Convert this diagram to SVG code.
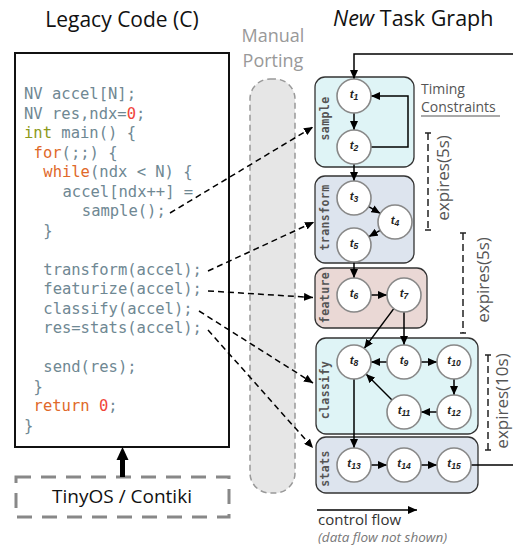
<svg xmlns="http://www.w3.org/2000/svg" width="513" height="548" viewBox="0 0 513 548">
<style>
.title{font-family:"Open Sans","Noto Sans",sans-serif;font-size:21px;fill:#111}
.code{font-family:"DejaVu Sans Mono","Liberation Mono",monospace;font-size:15.5px;fill:#6f8893}
.kw{fill:#e0692a}
.ty{fill:#8c9a1b}
.num{fill:#f0453a}
.grp{stroke:#333;stroke-width:1.3}
.glabel{font-family:"DejaVu Sans Mono","Liberation Mono",monospace;font-size:11.5px;font-weight:bold;fill:#555;letter-spacing:0.4px;text-anchor:middle}
.node circle{fill:#fff;stroke:#888;stroke-width:1.6}
.tl{font-family:"Liberation Sans",Arial,sans-serif;font-style:italic;font-weight:bold;font-size:11.5px;fill:#222;text-anchor:middle}
.sub{font-size:8.5px}
.edge{stroke:#000;stroke-width:1.5;fill:none}
.dash{stroke:#000;stroke-width:1.5;fill:none;stroke-dasharray:6 4}
.note{font-family:"Open Sans","Noto Sans",sans-serif;fill:#555}
.brk{stroke:#222;stroke-width:1.5;fill:none}
</style>
<defs>
<marker id="ah" markerUnits="userSpaceOnUse" markerWidth="10" markerHeight="8" refX="9" refY="4" orient="auto">
<path d="M0,0 L9,4 L0,8 z" fill="#000"/>
</marker>
</defs>

<!-- Titles -->
<text class="title" x="122" y="27" text-anchor="middle">Legacy Code (C)</text>
<text class="title" x="333" y="26" style="font-size:21.5px"><tspan font-style="italic">New</tspan> Task Graph</text>
<text class="note" x="273" y="42" font-size="18" text-anchor="middle" style="fill:#999">Manual</text>
<text class="note" x="273" y="67" font-size="18" text-anchor="middle" style="fill:#999">Porting</text>

<!-- Manual porting pill -->
<rect x="250" y="79" width="45" height="414" rx="20" fill="#e6e6e6" stroke="#999" stroke-width="1.5" stroke-dasharray="6 4"/>

<!-- Code box -->
<g id="legacy-code">
<rect x="15" y="53" width="214" height="394" fill="#fff" stroke="#111" stroke-width="2"/>
<text class="code" x="24" y="99">NV accel[N];</text>
<text class="code" x="24" y="118.5">NV res,ndx=<tspan class="num">0</tspan>;</text>
<text class="code" x="24" y="138"><tspan class="ty">int</tspan> main() {</text>
<text class="code" x="33.6" y="157.5"><tspan class="kw">for</tspan>(;;) {</text>
<text class="code" x="43.3" y="177"><tspan class="kw">while</tspan>(ndx &lt; N) {</text>
<text class="code" x="62.5" y="196.5">accel[ndx++] =</text>
<text class="code" x="81.8" y="216">sample();</text>
<text class="code" x="43.3" y="235.5">}</text>
<text class="code" x="43.3" y="274.5">transform(accel);</text>
<text class="code" x="43.3" y="294">featurize(accel);</text>
<text class="code" x="43.3" y="313.5">classify(accel);</text>
<text class="code" x="43.3" y="333">res=stats(accel);</text>
<text class="code" x="43.3" y="372">send(res);</text>
<text class="code" x="33.6" y="391.5">}</text>
<text class="code" x="33.6" y="411"><tspan class="kw">return</tspan> <tspan class="num">0</tspan>;</text>
<text class="code" x="24" y="430.5">}</text>
</g>

<!-- OS box -->
<g id="os">
<rect x="16" y="477" width="213" height="40" fill="none" stroke="#888" stroke-width="3" stroke-dasharray="15 10"/>
<text class="title" x="122" y="503" text-anchor="middle" style="font-size:19px">TinyOS / Contiki</text>
<rect x="120" y="459" width="5" height="18" fill="#000"/>
<polygon points="122.5,447 116.5,460 128.5,460" fill="#000"/>
</g>

<!-- Groups -->
<g id="sample">
<rect class="grp" x="315" y="77" width="99" height="90" rx="10" fill="#dff4f6"/>
<text class="glabel" transform="translate(329,118.5) rotate(-90)">sample</text>
</g>
<g id="transform">
<rect class="grp" x="315" y="176" width="99" height="87" rx="10" fill="#dde4ee"/>
<text class="glabel" transform="translate(329,217.5) rotate(-90)">transform</text>
</g>
<g id="feature">
<rect class="grp" x="315" y="268" width="112" height="60" rx="10" fill="#ead8d5"/>
<text class="glabel" transform="translate(329,297.5) rotate(-90)">feature</text>
</g>
<g id="classify">
<rect class="grp" x="316" y="338" width="162" height="96" rx="10" fill="#dff4f6"/>
<text class="glabel" transform="translate(329,390) rotate(-90)">classify</text>
</g>
<g id="stats">
<rect class="grp" x="316" y="437" width="162" height="56" rx="10" fill="#dde4ee"/>
<text class="glabel" transform="translate(329,468.5) rotate(-90)">stats</text>
</g>

<!-- Connectors -->
<g id="connectors">
<path class="edge" d="M513,54 H354 V79" marker-end="url(#ah)"/>
<path class="edge" d="M354,113 V130" marker-end="url(#ah)"/>
<path class="edge" d="M371,147 H408 V96 H371" marker-end="url(#ah)"/>
<path class="edge" d="M354,164 V181" marker-end="url(#ah)"/>
<path class="edge" d="M368.7,206.6 L380.3,213.4" marker-end="url(#ah)"/>
<path class="edge" d="M380.2,230.3 L368.8,236.7" marker-end="url(#ah)"/>
<path class="edge" d="M354,262 V278" marker-end="url(#ah)"/>
<path class="edge" d="M371,295 H387" marker-end="url(#ah)"/>
<path class="edge" d="M393.8,308.6 L364.2,348.4" marker-end="url(#ah)"/>
<path class="edge" d="M404,312 V345" marker-end="url(#ah)"/>
<path class="edge" d="M387,362 H371" marker-end="url(#ah)"/>
<path class="edge" d="M421,362 H437" marker-end="url(#ah)"/>
<path class="edge" d="M454,379 V395" marker-end="url(#ah)"/>
<path class="edge" d="M437,412 H421" marker-end="url(#ah)"/>
<path class="edge" d="M392,400 L366,374" marker-end="url(#ah)"/>
<path class="edge" d="M354,379 V448" marker-end="url(#ah)"/>
<path class="edge" d="M371,465 H387" marker-end="url(#ah)"/>
<path class="edge" d="M421,465 H437" marker-end="url(#ah)"/>
<path class="edge" d="M471,465 H513"/>
<!-- porting dashed arrows -->
<path class="dash" d="M170,213 L313,127" marker-end="url(#ah)"/>
<path class="dash" d="M208,271 L314,222" marker-end="url(#ah)"/>
<path class="dash" d="M208,291 L313,297.5" marker-end="url(#ah)"/>
<path class="dash" d="M199,311 L313,383" marker-end="url(#ah)"/>
<path class="dash" d="M208,330 L313,448" marker-end="url(#ah)"/>
<!-- legend -->
<path class="edge" d="M317,510 H417" marker-end="url(#ah)"/>
</g>

<!-- Nodes -->
<g id="t1" class="node"><circle cx="354" cy="96" r="17"/><text class="tl" x="354" y="98">t<tspan class="sub" dy="2">1</tspan></text></g>
<g id="t2" class="node"><circle cx="354" cy="147" r="17"/><text class="tl" x="354" y="149">t<tspan class="sub" dy="2">2</tspan></text></g>
<g id="t3" class="node"><circle cx="354" cy="198" r="17"/><text class="tl" x="354" y="200">t<tspan class="sub" dy="2">3</tspan></text></g>
<g id="t4" class="node"><circle cx="395" cy="222" r="17"/><text class="tl" x="395" y="224">t<tspan class="sub" dy="2">4</tspan></text></g>
<g id="t5" class="node"><circle cx="354" cy="245" r="17"/><text class="tl" x="354" y="247">t<tspan class="sub" dy="2">5</tspan></text></g>
<g id="t6" class="node"><circle cx="354" cy="295" r="17"/><text class="tl" x="354" y="297">t<tspan class="sub" dy="2">6</tspan></text></g>
<g id="t7" class="node"><circle cx="404" cy="295" r="17"/><text class="tl" x="404" y="297">t<tspan class="sub" dy="2">7</tspan></text></g>
<g id="t8" class="node"><circle cx="354" cy="362" r="17"/><text class="tl" x="354" y="364">t<tspan class="sub" dy="2">8</tspan></text></g>
<g id="t9" class="node"><circle cx="404" cy="362" r="17"/><text class="tl" x="404" y="364">t<tspan class="sub" dy="2">9</tspan></text></g>
<g id="t10" class="node"><circle cx="454" cy="362" r="17"/><text class="tl" x="454" y="364">t<tspan class="sub" dy="2">10</tspan></text></g>
<g id="t11" class="node"><circle cx="404" cy="412" r="17"/><text class="tl" x="404" y="414">t<tspan class="sub" dy="2">11</tspan></text></g>
<g id="t12" class="node"><circle cx="454" cy="412" r="17"/><text class="tl" x="454" y="414">t<tspan class="sub" dy="2">12</tspan></text></g>
<g id="t13" class="node"><circle cx="354" cy="465" r="17"/><text class="tl" x="354" y="467">t<tspan class="sub" dy="2">13</tspan></text></g>
<g id="t14" class="node"><circle cx="404" cy="465" r="17"/><text class="tl" x="404" y="467">t<tspan class="sub" dy="2">14</tspan></text></g>
<g id="t15" class="node"><circle cx="454" cy="465" r="17"/><text class="tl" x="454" y="467">t<tspan class="sub" dy="2">15</tspan></text></g>

<!-- Timing constraints -->
<g id="timing">
<text class="note" x="421" y="94" font-size="14">Timing</text>
<text class="note" x="421" y="112" font-size="14">Constraints</text>
<line x1="421" y1="116" x2="500" y2="116" stroke="#555" stroke-width="1.2"/>
<path class="brk" d="M425,133 H431 M425,230 H431"/>
<path class="brk" d="M428,133 V230" stroke-dasharray="7 4"/>
<text class="note" font-size="17" text-anchor="middle" transform="translate(449,178) rotate(-90)">expires(5s)</text>
<path class="brk" d="M460,233 H466 M460,333 H466"/>
<path class="brk" d="M463,233 V333" stroke-dasharray="7 4"/>
<text class="note" font-size="17" text-anchor="middle" transform="translate(489,280) rotate(-90)">expires(5s)</text>
<path class="brk" d="M485,355 H491 M485,450 H491"/>
<path class="brk" d="M488,355 V450" stroke-dasharray="7 4"/>
<text class="note" font-size="17" text-anchor="middle" transform="translate(508,401) rotate(-90)">expires(10s)</text>
</g>

<!-- Legend -->
<text class="note" x="318" y="525" font-size="15" style="fill:#333">control flow</text>
<text class="note" x="318" y="542" font-size="13.5" font-style="italic" style="fill:#777">(data flow not shown)</text>
</svg>
